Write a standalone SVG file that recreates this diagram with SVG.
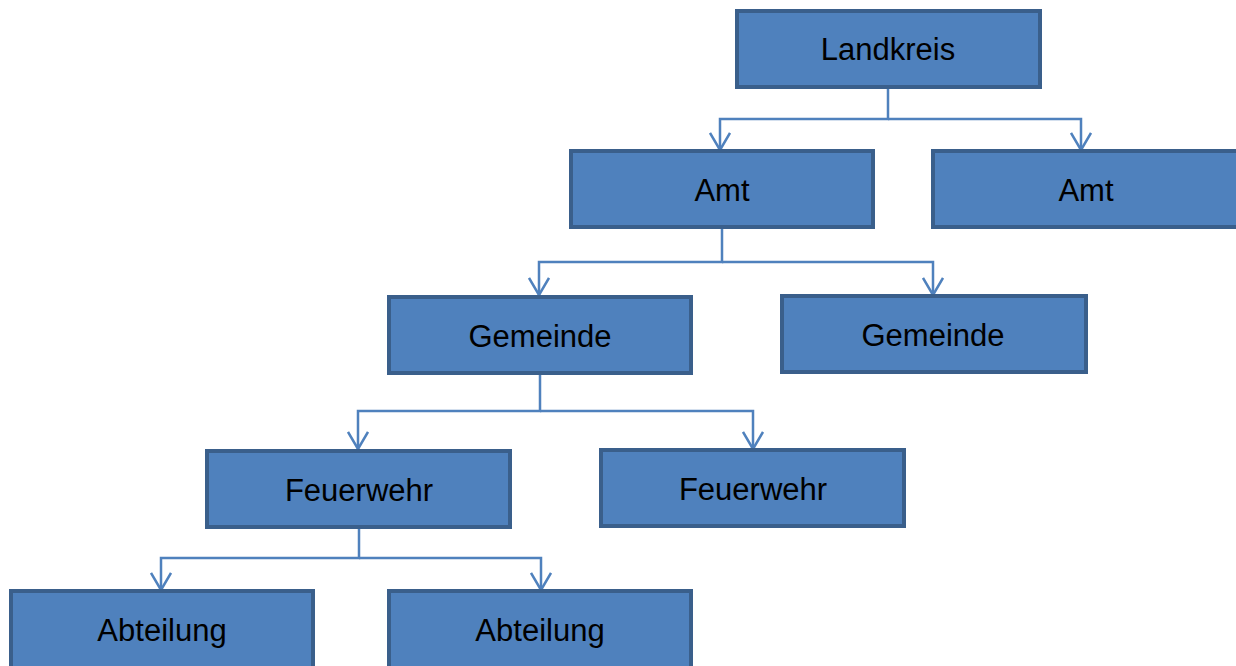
<svg xmlns="http://www.w3.org/2000/svg" width="1236" height="666" viewBox="0 0 1236 666">
<style>
.box{fill:#4F81BD;stroke:#3A5F8B;stroke-width:4}
.lbl{font-family:"Liberation Sans",Arial,sans-serif;font-size:31px;fill:#000;text-anchor:middle;dominant-baseline:central}
.c{fill:none;stroke:#4F81BD;stroke-width:2.5}
</style>
<defs>
<marker id="ah" viewBox="0 0 22 22" refX="19" refY="11" markerWidth="22" markerHeight="22" markerUnits="userSpaceOnUse" orient="auto">
<path d="M2,1 L19,11 L2,21" fill="none" stroke="#4F81BD" stroke-width="2.5"/>
</marker>
</defs>
<rect width="1236" height="666" fill="#fff"/>
<g id="connectors">
<path class="c" d="M888,88 V119 H720 V150" marker-end="url(#ah)"/>
<path class="c" d="M888,119 H1081 V150" marker-end="url(#ah)"/>
<path class="c" d="M722,228 V262 H539 V295" marker-end="url(#ah)"/>
<path class="c" d="M722,262 H933 V295" marker-end="url(#ah)"/>
<path class="c" d="M540,374 V411 H358 V449" marker-end="url(#ah)"/>
<path class="c" d="M540,411 H753 V449" marker-end="url(#ah)"/>
<path class="c" d="M359,528 V558 H161 V590" marker-end="url(#ah)"/>
<path class="c" d="M359,558 H541 V590" marker-end="url(#ah)"/>
</g>
<g id="landkreis"><rect class="box" x="737" y="11" width="303" height="76"/><text class="lbl" x="888" y="49">Landkreis</text></g>
<g id="amt1"><rect class="box" x="571" y="151" width="302" height="76"/><text class="lbl" x="722" y="190">Amt</text></g>
<g id="amt2"><rect class="box" x="933" y="151" width="306" height="76"/><text class="lbl" x="1086" y="190">Amt</text></g>
<g id="gemeinde1"><rect class="box" x="389" y="297" width="302" height="76"/><text class="lbl" x="540" y="336">Gemeinde</text></g>
<g id="gemeinde2"><rect class="box" x="782" y="296" width="304" height="76"/><text class="lbl" x="933" y="335">Gemeinde</text></g>
<g id="feuerwehr1"><rect class="box" x="207" y="451" width="303" height="76"/><text class="lbl" x="359" y="490">Feuerwehr</text></g>
<g id="feuerwehr2"><rect class="box" x="601" y="450" width="303" height="76"/><text class="lbl" x="753" y="489">Feuerwehr</text></g>
<g id="abteilung1"><rect class="box" x="11" y="591" width="302" height="80"/><text class="lbl" x="162" y="630">Abteilung</text></g>
<g id="abteilung2"><rect class="box" x="389" y="591" width="302" height="80"/><text class="lbl" x="540" y="630">Abteilung</text></g>
</svg>
